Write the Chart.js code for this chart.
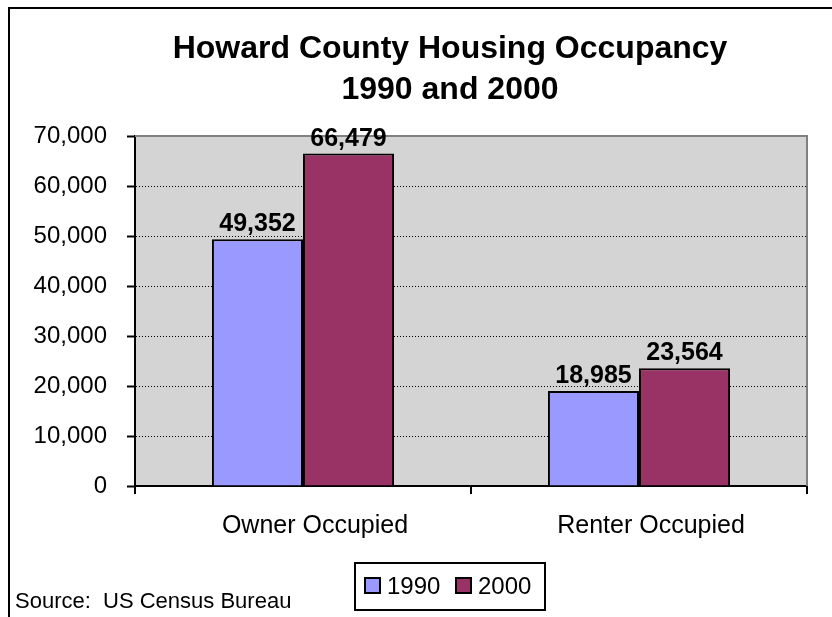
<!DOCTYPE html>
<html>
<head>
<meta charset="utf-8">
<script src="https://cdn.jsdelivr.net/npm/chart.js@4/dist/chart.umd.min.js"></script>
<style>
    html, body { margin: 0; padding: 0; background: #fff; }
    #wrap { width: 832px; height: 617px; position: relative; }
</style>
</head>
<body>
<div id="wrap"><canvas id="housingChart" width="832" height="617"></canvas></div>
<script>
const categories = ['Owner Occupied', 'Renter Occupied'];
const seriesNames = ['1990', '2000'];
const values1990 = [49352, 18985];
const values2000 = [66479, 23564];
const yMin = 0;
const yMax = 70000;
const yStep = 10000;

const titleLines = ['Howard County Housing Occupancy', '1990 and 2000'];
const sourceText = 'Source:  US Census Bureau';

const color1990 = '#9999FF';
const color2000 = '#993366';
const plotGray = '#D4D4D4';
const fontFamily = '"Liberation Sans", Arial, sans-serif';

// Frame, title, source note, legend box and the gray plot background
const decor = {
    id: 'decor',
    beforeDraw(chart) {
        const { ctx, chartArea: a } = chart;
        ctx.save();
        ctx.fillStyle = '#fff';
        ctx.fillRect(0, 0, chart.width, chart.height);
        ctx.fillStyle = plotGray;
        ctx.fillRect(a.left, a.top, a.right - a.left, a.bottom - a.top);
        ctx.restore();
    },
    beforeDatasetsDraw(chart) {
        const { ctx, chartArea: a } = chart;
        ctx.save();
        ctx.strokeStyle = '#808080';
        ctx.lineWidth = 2;
        ctx.beginPath();
        ctx.moveTo(a.left, a.top);
        ctx.lineTo(a.right, a.top);
        ctx.lineTo(a.right, a.bottom);
        ctx.stroke();
        ctx.restore();
    },
    afterDatasetsDraw(chart) {
        const { ctx } = chart;
        ctx.save();
        ctx.fillStyle = '#000';
        ctx.font = 'bold 25px ' + fontFamily;
        ctx.textAlign = 'center';
        ctx.textBaseline = 'alphabetic';
        chart.data.datasets.forEach((ds, i) => {
            chart.getDatasetMeta(i).data.forEach((bar, j) => {
                ctx.fillText(ds.data[j].toLocaleString('en-US'), bar.x, bar.y - 8);
            });
        });
        ctx.restore();
    },
    afterDraw(chart) {
        const { ctx } = chart;
        ctx.save();
        // outer frame (left and top edges only show in the window)
        ctx.fillStyle = '#000';
        ctx.fillRect(8, 7, 2, chart.height - 7);
        ctx.fillRect(8, 7, chart.width - 8, 2);

        // title
        ctx.textAlign = 'center';
        ctx.textBaseline = 'alphabetic';
        ctx.font = 'bold 32px ' + fontFamily;
        ctx.fillText(titleLines[0], 450, 58);
        ctx.fillText(titleLines[1], 450, 99);

        // source
        ctx.textAlign = 'left';
        ctx.font = '22px ' + fontFamily;
        ctx.fillText(sourceText, 15, 608);

        // legend
        ctx.strokeStyle = '#000';
        ctx.lineWidth = 2;
        ctx.strokeRect(355, 563, 190, 47);
        ctx.font = '24px ' + fontFamily;
        const items = [
            { x: 365, text: seriesNames[0], color: color1990 },
            { x: 456, text: seriesNames[1], color: color2000 }
        ];
        items.forEach(it => {
            ctx.fillStyle = it.color;
            ctx.fillRect(it.x, 578, 15, 15);
            ctx.strokeRect(it.x, 578, 15, 15);
            ctx.fillStyle = '#000';
            ctx.fillText(it.text, it.x + 22, 594);
        });
        ctx.restore();
    }
};

const ctx = document.getElementById('housingChart').getContext('2d');

new Chart(ctx, {
    type: 'bar',
    data: {
        labels: categories,
        datasets: [
            {
                label: seriesNames[0],
                data: values1990,
                backgroundColor: color1990,
                borderColor: '#000',
                borderWidth: 2
            },
            {
                label: seriesNames[1],
                data: values2000,
                backgroundColor: color2000,
                borderColor: '#000',
                borderWidth: 2
            }
        ]
    },
    options: {
        responsive: false,
        animation: false,
        layout: {
            padding: { top: 136, right: 25, left: 0, bottom: 0 }
        },
        datasets: {
            bar: {
                barPercentage: 1,
                categoryPercentage: 0.542
            }
        },
        plugins: {
            legend: { display: false },
            title: { display: false },
            tooltip: { enabled: false }
        },
        scales: {
            x: {
                afterFit(scale) { scale.height = 131; },
                grid: {
                    offset: true,
                    drawOnChartArea: false,
                    color: '#000',
                    tickLength: 8,
                    lineWidth: 2
                },
                border: { color: '#000', width: 2 },
                ticks: {
                    color: '#000',
                    padding: 17,
                    labelOffset: 12,
                    font: { family: fontFamily, size: 25 }
                }
            },
            y: {
                min: yMin,
                max: yMax,
                afterFit(scale) { scale.width = 135; },
                grid: {
                    color: c => (c.tick && (c.tick.value === yMin || c.tick.value === yMax)) ? 'rgba(0,0,0,0)' : '#000',
                    tickColor: '#000',
                    tickLength: 8,
                    tickWidth: 2,
                    tickBorderDash: [],
                    lineWidth: 1
                },
                border: { color: '#000', width: 2, dash: [1, 2] },
                ticks: {
                    stepSize: yStep,
                    color: '#000',
                    padding: 20,
                    font: { family: fontFamily, size: 24 },
                    callback: v => v.toLocaleString('en-US')
                }
            }
        }
    },
    plugins: [decor]
});
</script>
</body>
</html>
